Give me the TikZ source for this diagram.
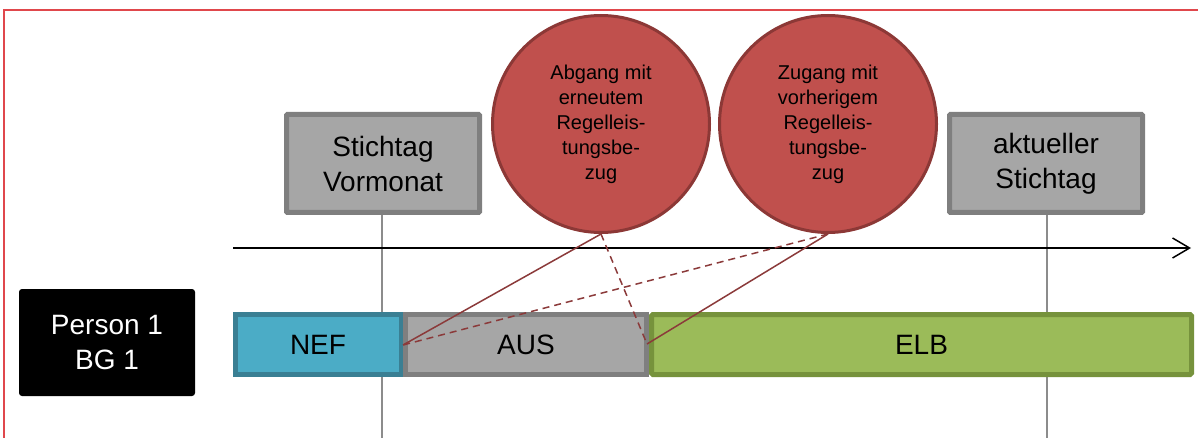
\documentclass[tikz,border=0pt]{standalone}
\usepackage{fontspec}
\setmainfont{Liberation Sans}
\usetikzlibrary{arrows.meta}
\definecolor{frame}{HTML}{E0474C}
\definecolor{gfill}{HTML}{A6A6A6}
\definecolor{gline}{HTML}{7F7F7F}
\definecolor{rfill}{HTML}{C0504D}
\definecolor{rline}{HTML}{8C3836}
\definecolor{conn}{HTML}{8B3A3A}
\definecolor{nfill}{HTML}{4BACC6}
\definecolor{nline}{HTML}{3A7F93}
\definecolor{efill}{HTML}{9BBB59}
\definecolor{eline}{HTML}{76923C}
\tikzset{
  gbox/.style={draw=gline, fill=gfill, line width=5pt, rounded corners=1pt,
    minimum width=193pt, minimum height=98pt, align=center, inner sep=0pt,
    font=\fontsize{28}{35}\selectfont},
  rcirc/.style={circle, draw=rline, fill=rfill, line width=3pt,
    minimum size=217pt, align=center, inner sep=0pt,
    font=\fontsize{20}{25}\selectfont},
  bar/.style={draw=#1, line width=5pt, minimum height=60pt,
    inner sep=0pt, font=\fontsize{28}{34}\selectfont},
  vline/.style={draw=gray!90, line width=1.5pt},
  connline/.style={draw=conn, line width=1.5pt},
  conndash/.style={draw=conn, line width=1.5pt, dash pattern=on 7pt off 5pt},
}
\begin{document}
\begin{tikzpicture}[x=1pt,y=-1pt]
\useasboundingbox (0,0) rectangle (1198,438);
% frame
\draw[frame, line width=2pt] (4,440) -- (4,10) -- (1200,10);
% boxes
\node[gbox] (sv) at (383,163.5) {Stichtag\\Vormonat};
\node[gbox] (as) at (1046,163.5) {aktueller\\Stichtag};
% vertical lines
\coordinate (svb) at (382,440);
\coordinate (asb) at (1047,440);
\draw[vline] (sv.south -| svb) -- (svb);
\draw[vline] (as.south -| asb) -- (asb);
% time arrow
\coordinate (t0) at (233,248);
\coordinate (t1) at (1191,248);
\draw[line width=1.5pt, -{Straight Barb[length=17pt,width=20pt,line width=1.5pt]}] (t0) -- (t1);
% person
\node[fill=black, rounded corners=3pt, minimum width=176pt, minimum height=107pt,
  align=center, text=white, inner sep=0pt, font=\fontsize{28}{35}\selectfont]
  (p) at (107,342.5) {Person 1\\BG 1};
% bars
\node[bar=nline, fill=nfill, minimum width=166pt] (nef) at (318,344.5) {NEF};
\node[bar=eline, fill=efill, minimum width=540pt, rounded corners=1.5pt] (elb) at (921.5,344.5) {ELB};
\node[bar=gline, fill=gfill, minimum width=241pt] (aus) at (526,344.5) {AUS};
% circles
\node[rcirc] (c1) at (601,124) {Abgang mit\\erneutem\\Regelleis-\\tungsbe-\\zug};
\node[rcirc] (c2) at (828,124) {Zugang mit\\vorherigem\\Regelleis-\\tungsbe-\\zug};
% connectors
\coordinate (p1) at (403,345);
\coordinate (p2) at (647,344);
\draw[connline] (c1.south) -- (p1);
\draw[conndash] (c1.south) -- (p2);
\draw[connline] (c2.south) -- (p2);
\draw[conndash] (c2.south) -- (p1);
\end{tikzpicture}
\end{document}
